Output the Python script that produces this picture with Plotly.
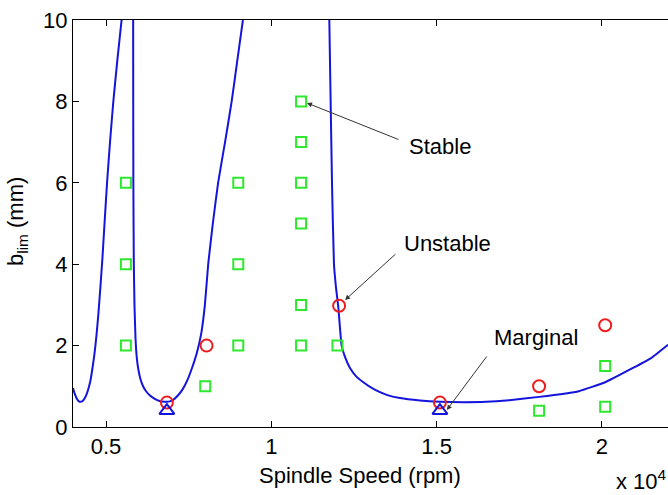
import plotly.graph_objects as go

# ---- stability lobe boundary (rpm, b_lim mm) ----
lobe1_rpm = [4000, 4060, 4120, 4180, 4230, 4290, 4350, 4410, 4470, 4530, 4590, 4650, 4710, 4770, 4830, 4890, 4950, 5030, 5120, 5220, 5340, 5470]
lobe1_b   = [0.96, 0.80, 0.69, 0.63, 0.62, 0.64, 0.70, 0.80, 0.95, 1.15, 1.45, 1.8, 2.25, 2.8, 3.45, 4.15, 4.95, 6.0, 7.0, 8.0, 9.0, 10.0]

lobe2_rpm = [5820, 5822, 5826, 5840, 5860, 5890, 5930, 5980, 6040, 6110, 6200, 6320, 6460, 6620, 6760, 6840,
             6930, 7050, 7180, 7320, 7460, 7600, 7740, 7880, 7990, 8090, 8230, 8390, 8600, 8800, 8970, 9140]
lobe2_b   = [10.0, 8.0, 6.0, 4.0, 3.0, 2.2, 1.7, 1.4, 1.18, 1.02, 0.89, 0.78, 0.70, 0.64, 0.62, 0.62,
             0.63, 0.68, 0.78, 0.93, 1.15, 1.45, 1.8, 2.3, 3.0, 4.0, 5.0, 6.0, 7.0, 8.0, 9.0, 10.0]

lobe3_rpm = [11754, 11794, 11835, 11895, 11960, 12026, 12127, 12240, 12380, 12560, 12783, 13100, 13489, 13890,
             14500, 15100, 15800, 16500, 17200, 18100, 19300, 20100, 20940, 21500, 22000]
lobe3_b   = [10.0, 8.0, 6.0, 4.0, 3.4, 2.95, 2.0, 1.7, 1.45, 1.25, 1.1, 0.93, 0.79, 0.71,
             0.65, 0.62, 0.61, 0.62, 0.66, 0.74, 0.88, 1.1, 1.45, 1.7, 2.02]

# ---- cutting tests ----
stable_rpm = [5600, 5600, 5600, 9000, 9000, 9000, 8000, 10900, 10900, 10900, 10900, 10900, 10900, 12000, 18100, 20100, 20100]
stable_b   = [6, 4, 2, 6, 4, 2, 1, 8, 7, 6, 5, 3, 2, 2, 0.4, 0.5, 1.5]

unstable_rpm = [6840, 8040, 12050, 15100, 18100, 20100]
unstable_b   = [0.6, 2.0, 2.98, 0.6, 1.0, 2.5]

marginal_rpm = [6840, 15100]
marginal_b   = [0.4, 0.4]

x_tickvals = [5000, 10000, 15000, 20000]
x_ticktext = ["0.5", "1", "1.5", "2"]
y_tickvals = [0, 2, 4, 6, 8, 10]

FONT = "Liberation Sans, Arial, Helvetica, sans-serif"
BLUE = "#1414dc"

fig = go.Figure()
for xs, ys in [(lobe1_rpm, lobe1_b), (lobe2_rpm, lobe2_b), (lobe3_rpm, lobe3_b)]:
    fig.add_trace(go.Scatter(x=xs, y=ys, mode="lines",
                             line=dict(color=BLUE, width=2, shape="spline", smoothing=0.4),
                             showlegend=False, hoverinfo="skip"))

fig.add_trace(go.Scatter(x=stable_rpm, y=stable_b, mode="markers", showlegend=False,
                         marker=dict(symbol="square-open", size=10, color="#2ee82e",
                                     line=dict(width=2, color="#2ee82e"))))
fig.add_trace(go.Scatter(x=unstable_rpm, y=unstable_b, mode="markers", showlegend=False,
                         marker=dict(symbol="circle-open", size=12, color="#ee1c1c",
                                     line=dict(width=2, color="#ee1c1c"))))
fig.add_trace(go.Scatter(x=marginal_rpm, y=marginal_b, mode="markers", showlegend=False,
                         marker=dict(symbol="triangle-up-open", size=13, color=BLUE,
                                     line=dict(width=2, color=BLUE))))

# arrows (no text) + labels
arrows = [
    dict(x=11080, y=7.96, ax=13890, ay=7.05),
    dict(x=12230, y=3.12, ax=13800, ay=4.28),
    dict(x=15310, y=0.42, ax=16550, ay=1.77),
]
for a in arrows:
    fig.add_annotation(x=a["x"], y=a["y"], ax=a["ax"], ay=a["ay"], axref="x", ayref="y",
                       xref="x", yref="y", text="", showarrow=True, arrowhead=2,
                       arrowsize=1, arrowwidth=1, arrowcolor="#333333")

labels = [("Stable", 15100, 6.88), ("Unstable", 15340, 4.52), ("Marginal", 18000, 2.21)]
for t, x, y in labels:
    fig.add_annotation(x=x, y=y, xref="x", yref="y", text=t, showarrow=False,
                       font=dict(family=FONT, size=22, color="black"),
                       xanchor="center", yanchor="middle")

# axis titles as annotations
fig.add_annotation(x=(360 - 73) / 595, y=(427 - 475) / 407, xref="paper", yref="paper",
                   text="Spindle Speed (rpm)", showarrow=False,
                   font=dict(family=FONT, size=22, color="black"),
                   xanchor="center", yanchor="middle")
fig.add_annotation(x=(17 - 73) / 595, y=(427 - 222) / 407, xref="paper", yref="paper",
                   text="b<sub>lim</sub> (mm)", showarrow=False, textangle=-90,
                   font=dict(family=FONT, size=22, color="black"),
                   xanchor="center", yanchor="middle")
fig.add_annotation(x=1.0, y=(427 - 495) / 407, xref="paper", yref="paper",
                   text="x 10<sup>4</sup>", showarrow=False, borderpad=0,
                   font=dict(family=FONT, size=22, color="black"),
                   xanchor="right", yanchor="bottom")

fig.update_xaxes(range=[4000, 22000], tickvals=x_tickvals, ticktext=x_ticktext,
                 ticks="inside", ticklen=6, tickcolor="black", showline=True, linecolor="black",
                 linewidth=1, mirror="allticks", showgrid=False, zeroline=False,
                 tickfont=dict(family=FONT, size=22, color="black"))
fig.update_yaxes(range=[0, 10], tickvals=y_tickvals, ticks="inside", ticklen=6, tickcolor="black",
                 showline=True, linecolor="black", linewidth=1, mirror=False,
                 showgrid=False, zeroline=False,
                 tickfont=dict(family=FONT, size=22, color="black"))

fig.update_layout(width=668, height=495, margin=dict(l=73, r=0, t=20, b=68),
                  plot_bgcolor="white", paper_bgcolor="white")

fig.write_html("out.html")
